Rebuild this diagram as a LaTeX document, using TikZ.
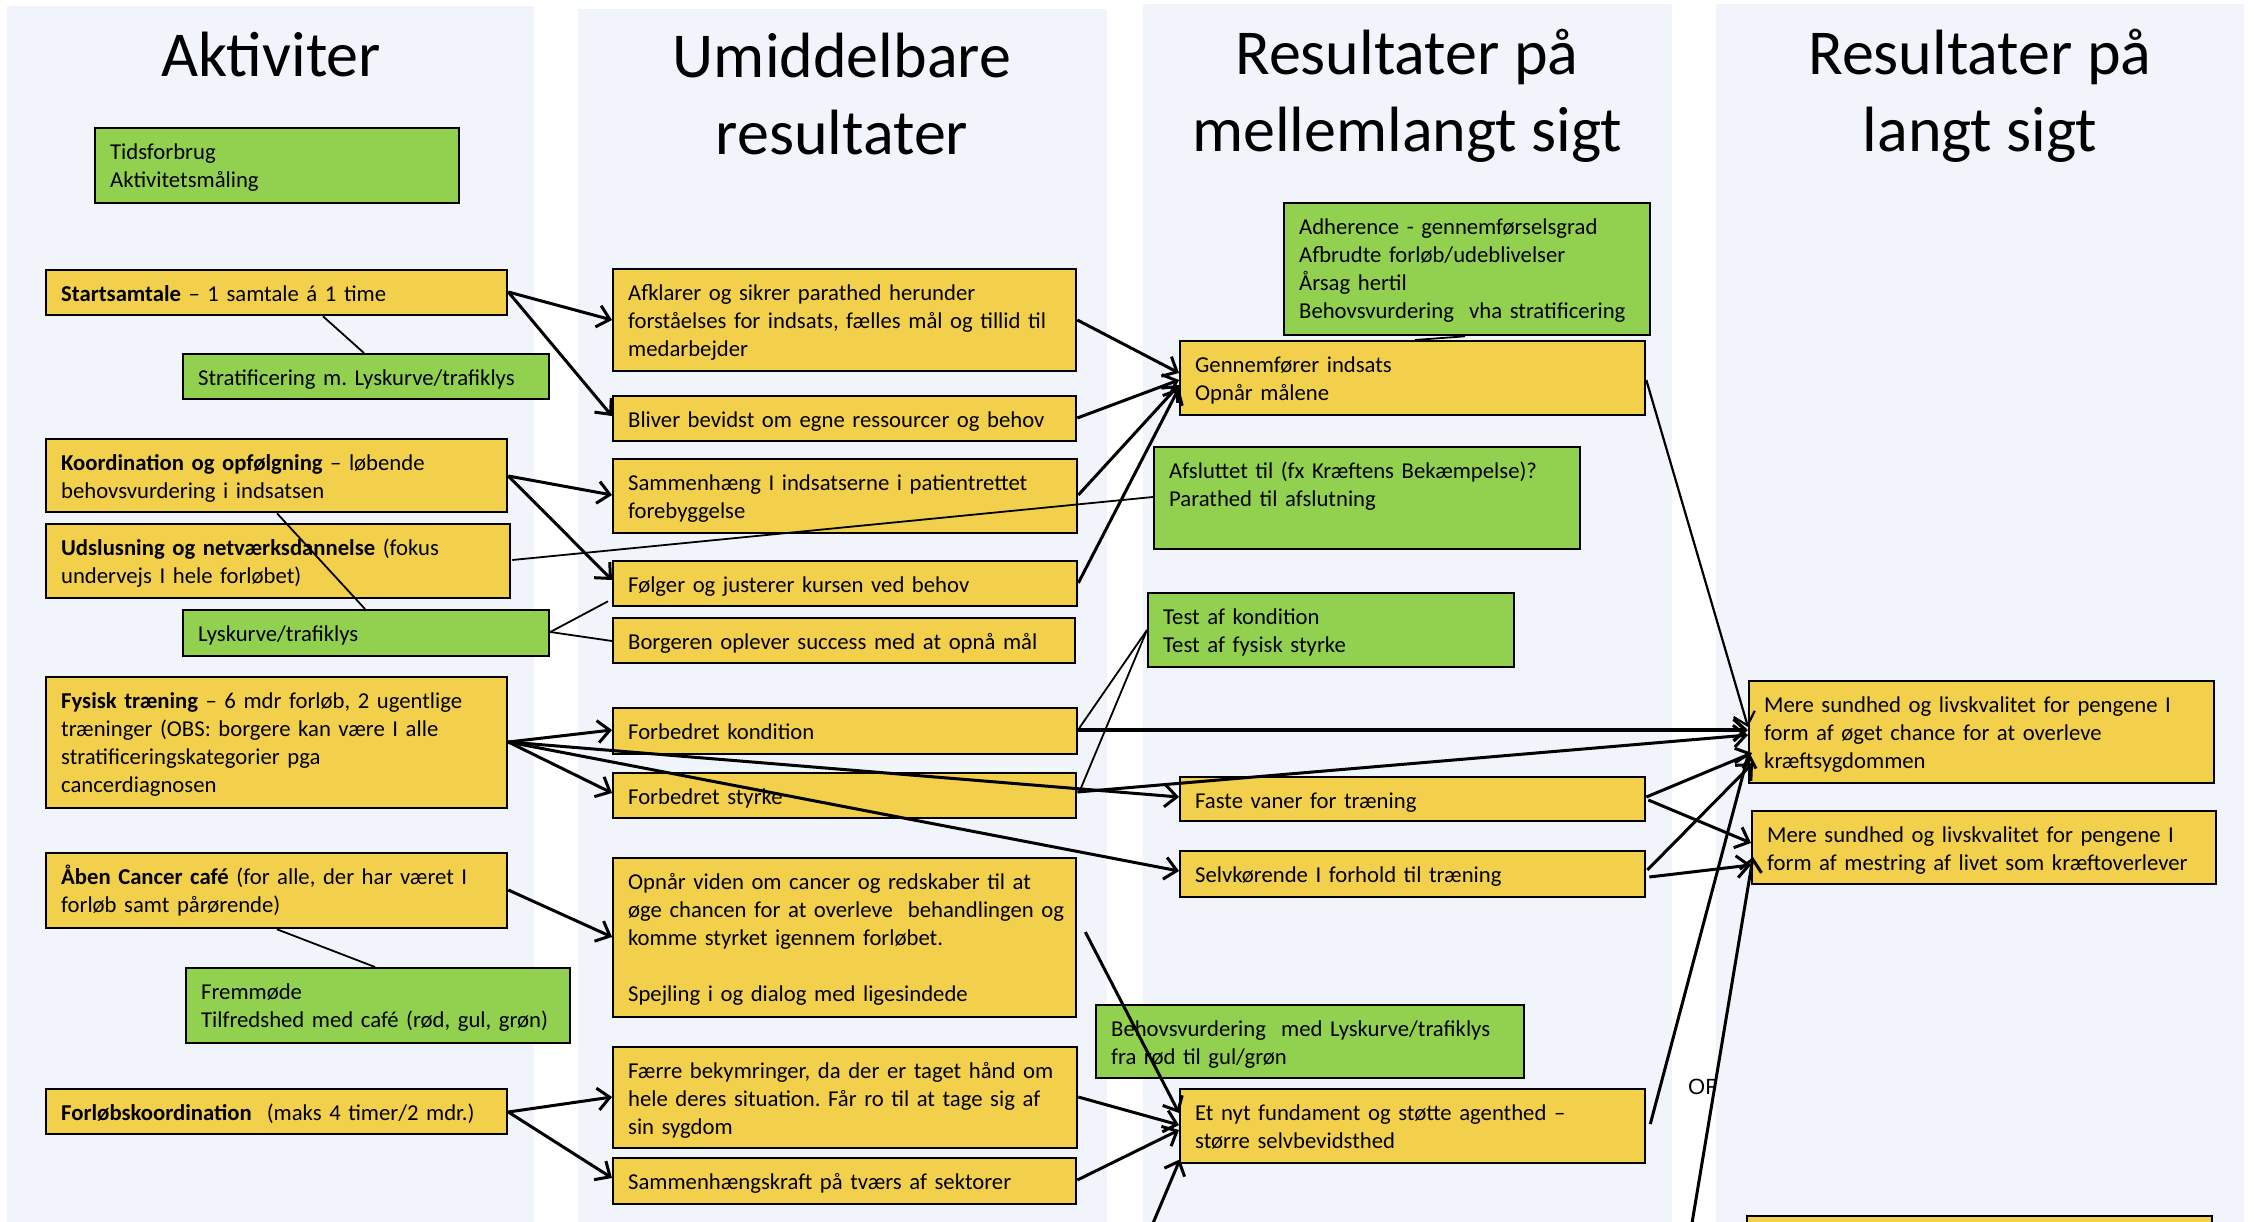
\documentclass[tikz,border=0pt]{standalone}
\usepackage{fontspec}
\setmainfont{Carlito}
\newfontfamily\orfont{Liberation Sans}
\usetikzlibrary{arrows.meta,calc}
\frenchspacing

\definecolor{kbyellow}{HTML}{F2D04C}
\definecolor{kbgreen}{HTML}{92D050}
\definecolor{kbcol}{HTML}{F1F4FA}

\newcommand\kbfont{\fontsize{22.7}{28}\selectfont}
\newcommand\kbtitlefont{\fontsize{64}{77}\selectfont}
\newcommand\kbskip{\leftskip=15pt\relax\rightskip=0pt plus 1fil\relax}

\tikzset{
  kb/.style={draw=black, line width=2.3pt, inner sep=0pt, text height=31pt,
             anchor=north west, align=left, font=\kbfont},
  yb/.style={kb, fill=kbyellow},
  gb/.style={kb, fill=kbgreen},
  coltitle/.style={font=\kbtitlefont, inner sep=0pt, anchor=base},
  colbg/.style={fill=kbcol, draw=none},
  arr/.style={line width=3pt, line join=round,
              -{Straight Barb[length=12pt,width=22pt]}},
  arrthin/.style={line width=2.2pt, line join=round,
              -{Straight Barb[length=12pt,width=22pt]}},
  assoc/.style={line width=1.8pt},
}

% box: style, name, left, top, width, height, text (first baseline 31pt below the top)
\newcommand{\kbox}[7]{%
  \pgfmathsetmacro\kbW{#5}%
  \pgfmathsetmacro\kbD{#6-31}%
  \node[#1, text width=\kbW pt, text depth=\kbD pt] (#2) at (#3,#4) {\kbskip #7\par};%
}

\begin{document}
\begin{tikzpicture}[x=1pt,y=-1pt]
\useasboundingbox (0,0) rectangle (2259,1222);
\clip (0,0) rectangle (2259,1222);
\fill[white] (0,0) rectangle (2259,1222);

% column backgrounds
\fill[colbg] (7,6) rectangle (534,1240);
\fill[colbg] (578,9) rectangle (1107,1240);
\fill[colbg] (1143,4) rectangle (1672,1240);
\node[font=\orfont\fontsize{22}{26}\selectfont, anchor=base west, inner sep=0pt] (ortxt) at (1688,1094) {OR};
\fill[colbg] (1716,4) rectangle (2244,1240);

% column titles
\node[coltitle] (t1)  at (271,77)  {Aktiviter};
\node[coltitle] (t2a) at (842,78)  {Umiddelbare};
\node[coltitle] (t2b) at (842,155) {resultater};
\node[coltitle] (t3a) at (1407,75) {Resultater på};
\node[coltitle] (t3b) at (1407,152) {mellemlangt sigt};
\node[coltitle] (t4a) at (1980,75) {Resultater på};
\node[coltitle] (t4b) at (1980,152) {langt sigt};

% activities
\kbox{gb}{tid}{94}{127}{364}{75}{Tidsforbrug\\Aktivitetsmåling}
\kbox{yb}{start}{45}{269}{461}{45}{\textbf{Startsamtale} – 1 samtale á 1 time}
\kbox{gb}{strat}{182}{353}{366}{45}{Stratificering m. Lyskurve/trafiklys}
\kbox{yb}{koord}{45}{438}{461}{73}{\textbf{Koordination og opfølgning} – løbende\\behovsvurdering i indsatsen}
\kbox{yb}{udsl}{45}{523}{464}{74}{\textbf{Udslusning og netværksdannelse} (fokus\\undervejs I hele forløbet)}
\kbox{gb}{lysk}{182}{609}{366}{46}{Lyskurve/trafiklys}
\kbox{yb}{fys}{45}{676}{461}{131}{\textbf{Fysisk træning} – 6 mdr forløb, 2 ugentlige\\træninger (OBS: borgere kan være I alle\\stratificeringskategorier pga\\cancerdiagnosen}
\kbox{yb}{aaben}{45}{852}{461}{75}{\textbf{Åben Cancer café} (for alle, der har været I\\forløb samt pårørende)}
\kbox{gb}{frem}{185}{967}{384}{75}{Fremmøde\\Tilfredshed med café (rød, gul, grøn)}
\kbox{yb}{forlob}{45}{1088}{461}{45}{\textbf{Forløbskoordination}\ \ (maks 4 timer/2 mdr.)}

% immediate results
\kbox{yb}{afkl}{612}{268}{463}{102}{Afklarer og sikrer parathed herunder\\forståelses for indsats, fælles mål og tillid til\\medarbejder}
\kbox{yb}{bliv}{612}{395}{463}{45}{Bliver bevidst om egne ressourcer og behov}
\kbox{yb}{samm}{612}{458}{464}{74}{Sammenhæng I indsatserne i patientrettet\\forebyggelse}
\kbox{yb}{folg}{612}{560}{464}{45}{Følger og justerer kursen ved behov}
\kbox{yb}{borg}{612}{617}{462}{45}{Borgeren oplever success med at opnå mål}
\kbox{yb}{kond}{612}{707}{464}{46}{Forbedret kondition}
\kbox{yb}{styr}{612}{772}{463}{45}{Forbedret styrke}
\kbox{yb}{opn}{612}{857}{463}{159}{Opnår viden om cancer og redskaber til at\\øge chancen for at overleve\ \ behandlingen og\\komme styrket igennem forløbet.\\[28pt]Spejling i og dialog med ligesindede}
\kbox{yb}{faerre}{612}{1046}{464}{101}{Færre bekymringer, da der er taget hånd om\\hele deres situation. Får ro til at tage sig af\\sin sygdom}
\kbox{yb}{sammk}{612}{1157}{463}{46}{Sammenhængskraft på tværs af sektorer}

% medium-term results
\kbox{gb}{adh}{1283}{202}{366}{132}{Adherence - gennemførselsgrad\\Afbrudte forløb/udeblivelser\\Årsag hertil\\Behovsvurdering\ \ vha stratificering}
\kbox{yb}{genn}{1179}{340}{465}{74}{Gennemfører indsats\\Opnår målene}
\kbox{gb}{afsl}{1153}{446}{426}{102}{Afsluttet til (fx Kræftens Bekæmpelse)?\\Parathed til afslutning}
\kbox{gb}{test}{1147}{592}{366}{74}{Test af kondition\\Test af fysisk styrke}
\kbox{yb}{faste}{1179}{776}{465}{44}{Faste vaner for træning}
\kbox{yb}{selv}{1179}{850}{465}{46}{Selvkørende I forhold til træning}
\kbox{gb}{behov}{1095}{1004}{428}{73}{Behovsvurdering\ \ med Lyskurve/trafiklys\\fra rød til gul/grøn}
\kbox{yb}{etnyt}{1179}{1088}{465}{74}{Et nyt fundament og støtte agenthed –\\større selvbevidsthed}

% long-term results
\kbox{yb}{mere1}{1748}{680}{465}{102}{Mere sundhed og livskvalitet for pengene I\\form af øget chance for at overleve\\kræftsygdommen}
\kbox{yb}{mere2}{1751}{810}{464}{73}{Mere sundhed og livskvalitet for pengene I\\form af mestring af livet som kræftoverlever}
\kbox{yb}{mere3}{1746}{1215}{465}{90}{}

% free ends entering from below
\coordinate (b1) at (1690,1235);
\coordinate (b2) at (1148,1235);

% association lines to indicators
\draw[assoc] ($(start.south west)+(278,0)$) -- ($(strat.north west)+(182,0)$);
\draw[assoc] ($(koord.south west)+(232,0)$) -- ($(lysk.north west)+(183,0)$);
\draw[assoc] ($(lysk.north east)+(0,23)$) -- ($(folg.south west)+(-4,-6)$);
\draw[assoc] ($(lysk.north east)+(0,23)$) -- ($(borg.north west)+(0,24)$);
\draw[assoc] ($(udsl.north east)+(1,37)$) -- ($(afsl.north west)+(0,51)$);
\draw[assoc] ($(adh.south west)+(182,0)$) -- ($(genn.north west)+(236,0)$);
\draw[assoc] ($(test.north west)+(0,38)$) -- ($(kond.north east)+(1,21)$);
\draw[assoc] ($(test.north west)+(0,38)$) -- ($(styr.north east)+(2,20)$);
\draw[assoc] ($(aaben.south west)+(232,0)$) -- ($(frem.north west)+(190,0)$);

% activities to immediate results
\draw[arr] ($(start.north east)+(0,23)$) -- ($(afkl.north west)+(0,52)$);
\draw[arr] ($(start.north east)+(0,23)$) -- ($(bliv.north west)+(0,21)$);
\draw[arr] ($(koord.north east)+(0,38)$) -- ($(samm.north west)+(0,37)$);
\draw[arr] ($(koord.north east)+(0,38)$) -- ($(folg.north west)+(0,20)$);
\draw[arr] ($(fys.north east)+(0,66)$) -- ($(kond.north west)+(0,23)$);
\draw[arr] ($(fys.north east)+(0,66)$) -- ($(styr.north west)+(0,21)$);
\draw[arr] ($(fys.north east)+(0,66)$) -- ($(faste.north west)+(0,21)$);
\draw[arr] ($(fys.north east)+(0,66)$) -- ($(selv.north west)+(0,21)$);
\draw[arr] ($(aaben.north east)+(0,38)$) -- ($(opn.north west)+(0,80)$);
\draw[arr] ($(forlob.north east)+(0,24)$) -- ($(faerre.north west)+(0,51)$);
\draw[arr] ($(forlob.north east)+(0,24)$) -- ($(sammk.north west)+(0,21)$);

% immediate to medium-term results
\draw[arr] ($(afkl.north east)+(0,52)$) -- ($(genn.north west)+(0,33)$);
\draw[arr] ($(bliv.north east)+(0,23)$) -- ($(genn.north west)+(0,40)$);
\draw[arr] ($(samm.north east)+(0,37)$) -- ($(genn.north west)+(0,45)$);
\draw[arr] ($(folg.north east)+(0,23)$) -- ($(genn.north west)+(0,48)$);
\draw[arr] ($(opn.north east)+(8,75)$) -- ($(etnyt.north west)+(0,25)$);
\draw[arr] ($(faerre.north east)+(0,51)$) -- ($(etnyt.north west)+(0,37)$);
\draw[arr] ($(sammk.north east)+(0,23)$) -- ($(etnyt.north west)+(0,42)$);
\draw[arr] (b2) -- ($(etnyt.south west)+(1,-5)$);

% to long-term results
\draw[arrthin] ($(genn.north east)+(0,40)$) -- ($(mere1.north west)+(0,47)$);
\draw[arr, line width=3.4pt] ($(kond.north east)+(0,23)$) -- ($(mere1.north west)+(0,50)$);
\draw[arr] ($(styr.north east)+(0,20)$) -- ($(mere1.north west)+(0,55)$);
\draw[arr] ($(faste.north east)+(0,21)$) -- ($(mere1.north west)+(4,73)$);
\draw[arr] ($(faste.north east)+(2,24)$) -- ($(mere2.north west)+(0,33)$);
\draw[arr] ($(selv.north east)+(1,20)$) -- ($(mere1.north west)+(5,83)$);
\draw[arr] ($(selv.north east)+(3,27)$) -- ($(mere2.north west)+(0,55)$);
\draw[arr] ($(etnyt.north east)+(4,36)$) -- ($(mere1.north west)+(1,72)$);
\draw[arr] (b1) -- ($(mere2.north west)+(2,47)$);
\end{tikzpicture}
\end{document}
